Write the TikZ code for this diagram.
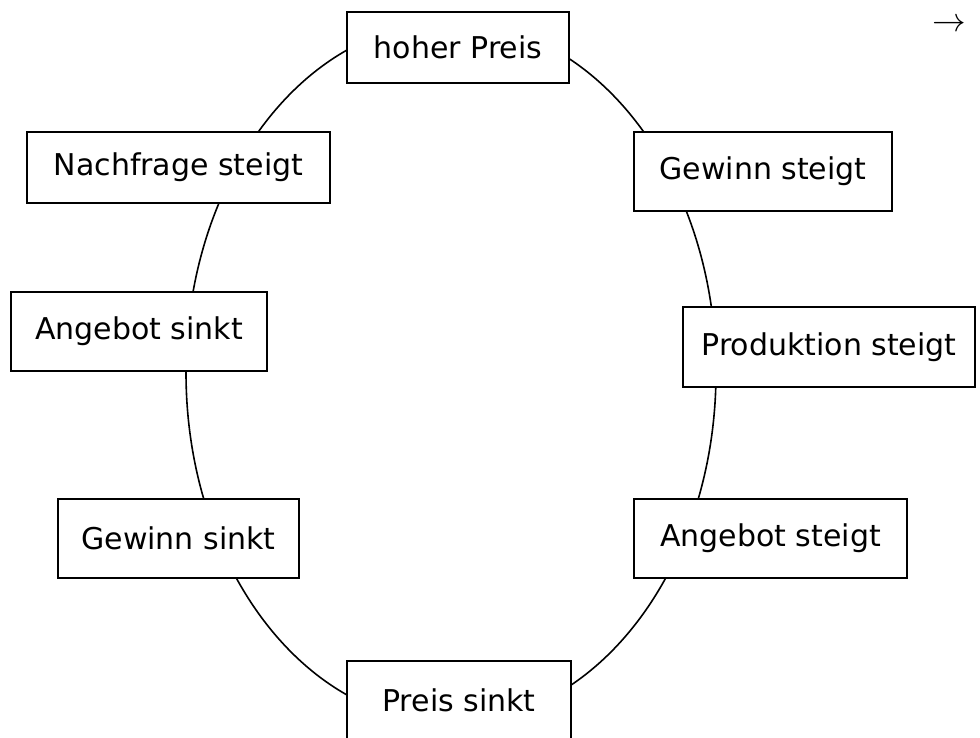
\documentclass[tikz,border=0pt]{standalone}
\usepackage{fontspec}
\setmainfont{DejaVu Sans}
\begin{document}
\begin{tikzpicture}[x=1pt,y=-1pt,
  stepbox/.style={draw=black,line width=1.9pt,fill=white,inner sep=0pt,
    font=\fontsize{30}{33}\selectfont},
  cycleline/.style={draw=black,line width=1.6pt}]
\useasboundingbox (0,0) rectangle (980,737);
\draw[cycleline] (451,372.5) ellipse [x radius=265, y radius=350.5];
\node[stepbox,minimum width=222pt,minimum height=71pt] (hp) at (458,47.5) {hoher Preis};
\node[stepbox,minimum width=303pt,minimum height=71pt] (ns) at (178.5,167.5) {Nachfrage steigt};
\node[stepbox,minimum width=258pt,minimum height=79pt] (gst) at (763,171.5) {Gewinn steigt};
\node[stepbox,minimum width=256pt,minimum height=79pt] (as) at (139,331.5) {Angebot sinkt};
\node[stepbox,minimum width=292pt,minimum height=80pt] (ps) at (829,347) {Produktion steigt};
\node[stepbox,minimum width=241pt,minimum height=79pt] (gsi) at (178.5,538.5) {Gewinn sinkt};
\node[stepbox,minimum width=273pt,minimum height=79pt] (ast) at (770.5,538.5) {Angebot steigt};
\node[stepbox,minimum width=224pt,minimum height=79pt] (pk) at (459,700.5) {Preis sinkt};
\node[inner sep=0pt] (arr) at (949,25) {\scalebox{1.35}{\fontsize{24.88}{26}\selectfont$\rightarrow$}};
\end{tikzpicture}
\end{document}
